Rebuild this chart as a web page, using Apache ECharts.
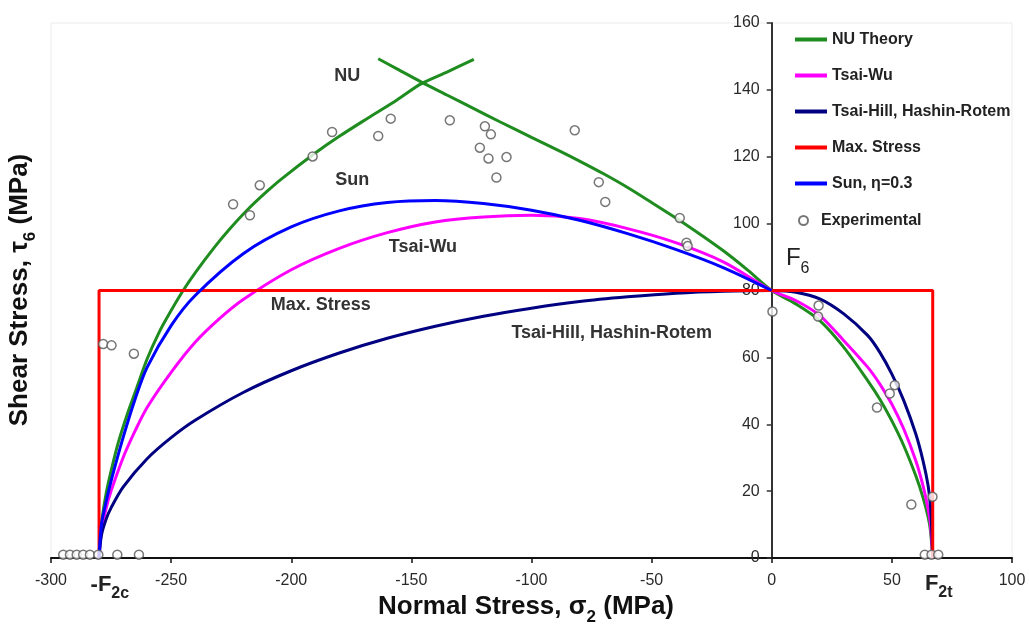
<!DOCTYPE html>
<html>
<head>
<meta charset="utf-8">
<script src="https://cdn.jsdelivr.net/npm/echarts@6/dist/echarts.min.js"></script>
<style>
  html, body { margin: 0; background: #fff; }
  #chart { width: 1029px; height: 626px; }
</style>
</head>
<body>
<div id="chart"></div>
<script>
// failure envelopes (sigma2 in MPa, tau6 in MPa)
const nuLeftX = [-280, -279.5, -278.5, -277, -275, -272, -268, -265, -260, -255, -250, -245, -240, -232, -226, -218, -210, -204, -190, -180, -168, -156, -146, -135, -124];
const nuLeftY = [0, 7, 13, 19.5, 26, 34.5, 43.5, 49.5, 59.5, 67.5, 74, 80, 85.3, 92.9, 98.1, 104.3, 109.7, 113.4, 121.1, 126.1, 131.6, 137, 141.8, 145.4, 149.1];

const nuRightX = [-163.8, -156, -146, -135, -124, -113, -100, -88, -80, -70, -60, -50, -38, -30, -20, -10, 0, 10, 20, 30, 40, 45, 50, 55, 60, 63, 65, 66, 67];
const nuRightY = [149.3, 146.3, 142.4, 138.4, 134.4, 130.4, 125.8, 121.6, 118.7, 114.9, 110.8, 106.3, 100.8, 96.9, 91.8, 86.1, 80, 76, 71, 63, 53, 47.5, 41, 33.5, 24.5, 18, 12.5, 8.5, 0];

const tsaiWuX = [-280, -279, -277, -275, -270, -265, -260, -250, -240, -230, -220, -200, -180, -160, -140, -120, -100, -80, -60, -40, -20, 0, 10, 20, 30, 40, 45, 50, 55, 60, 63, 65, 66, 67];
const tsaiWuY = [0, 8, 15, 20, 30, 38, 45, 55.5, 64.5, 71.5, 77.3, 86.2, 92.6, 97.3, 100.5, 102, 102.5, 101.5, 98.5, 94.3, 88.5, 80, 77, 72.5, 65, 57, 52, 46, 38.5, 29, 21.5, 15, 10.5, 0];

const tsaiHillX = [-280, -279, -277, -275, -270, -260, -250, -240, -220, -200, -180, -160, -140, -120, -100, -80, -60, -40, -20, 0, 10, 20, 30, 40, 45, 50, 55, 60, 63, 65, 66, 66.5, 67];
const tsaiHillY = [0, 6.8, 11.7, 15, 21.2, 29.7, 36, 41.2, 49.5, 56, 61.3, 65.7, 69.3, 72.3, 74.7, 76.7, 78.1, 79.2, 79.8, 80, 79.5, 77.5, 73, 66.5, 61.5, 55, 47, 37, 29, 22, 16, 10, 0];

const maxStressX = [-280, -280, 67, 67];
const maxStressY = [0, 80, 80, 0];

const sunX = [-280, -279, -277, -275, -270, -265, -260, -250, -240, -220, -200, -180, -160, -140, -120, -100, -80, -60, -40, -20, 0];
const sunY = [0, 10, 17, 23, 36, 47.5, 57, 69.5, 78.5, 91, 99, 103.8, 106.3, 106.9, 106, 104, 101, 97, 92.3, 86.8, 80];

const expX = [-294.9, -292.1, -289.3, -286.6, -283.8, -280.3, -272.4, -263.4,
  -278.3, -274.8, -265.5,
  -224.2, -217.2, -213.1, -191.1, -183, -163.8, -158.6, -134, -119.4, -116.9, -121.5, -117.9, -114.6, -110.4,
  -82, -72, -69.3, -38.3, -35.5, -35,
  0.3, 19.5, 19.3, 51.2, 49.1, 43.8, 58.1, 66.9, 63.7, 66.5, 69.3];
const expY = [1, 1, 1, 1, 1, 1, 1, 1,
  64, 63.6, 61.1,
  105.8, 102.5, 111.5, 120.1, 127.4, 126.2, 131.4, 130.9, 129.1, 126.7, 122.7, 119.5, 113.8, 119.9,
  127.9, 112.4, 106.5, 101.7, 94.3, 93.3,
  73.7, 75.5, 72.2, 51.7, 49.2, 45, 16, 18.3, 1, 1, 1];

// in-plot labels, anchored in data units
const annoText = ['NU', 'Sun', 'Tsai-Wu', 'Max. Stress', 'Tsai-Hill, Hashin-Rotem'];
const annoX = [-176.7, -174.6, -145.2, -187.7, -66.6];
const annoY = [144.2, 113.0, 93.0, 75.6, 67.4];

const X_MIN = -300, X_MAX = 100;
const GRID = { left: 51, right: 17, top: 23, bottom: 68 };
const WIDTH = 1029;

const FONT = '"Liberation Sans", Arial, sans-serif';
const GREEN = '#1f8c1f', PINK = '#ff00ff', NAVY = '#000080', RED = '#ff0000', BLUE = '#0000ff';

const zip = (xs, ys) => xs.map((x, i) => [x, ys[i]]);

const chart = echarts.init(document.getElementById('chart'));

function lineSeries(name, xs, ys, color, smooth) {
  return {
    name: name,
    type: 'line',
    data: zip(xs, ys),
    symbol: 'none',
    smooth: smooth,
    lineStyle: { color: color, width: 3 },
    itemStyle: { color: color },
    z: 3
  };
}

// y axis sits on sigma2 = 0, labels included
const plotW = WIDTH - GRID.left - GRID.right;
const yAxisOffset = -plotW * (0 - X_MIN) / (X_MAX - X_MIN);

const legendText = { fontSize: 16, fontWeight: 'bold', color: '#222', fontFamily: FONT, lineHeight: 17 };

const option = {
  animation: false,
  grid: Object.assign({ show: true, borderColor: '#ececec', borderWidth: 1 }, GRID),
  xAxis: {
    type: 'value',
    min: X_MIN,
    max: X_MAX,
    interval: 50,
    axisLine: { onZero: false, lineStyle: { color: '#111', width: 2 } },
    axisTick: { length: 5, lineStyle: { color: '#111', width: 1.5 } },
    axisLabel: { color: '#2a2a2a', fontSize: 16, margin: 15, fontFamily: FONT },
    splitLine: { show: false }
  },
  yAxis: {
    type: 'value',
    position: 'left',
    offset: yAxisOffset,
    min: 0,
    max: 160,
    interval: 20,
    axisLine: { show: true, onZero: false, lineStyle: { color: '#333', width: 2 } },
    axisTick: { show: true, length: 5, lineStyle: { color: '#333', width: 1.5 } },
    axisLabel: { color: '#2a2a2a', fontSize: 16, margin: 12, fontFamily: FONT },
    splitLine: { show: false }
  },
  legend: [
    {
      data: ['NU Theory', 'Tsai-Wu', 'Tsai-Hill, Hashin-Rotem', 'Max. Stress', 'Sun, η=0.3'],
      orient: 'vertical',
      left: 795,
      top: 31,
      padding: 0,
      icon: 'rect',
      itemWidth: 32,
      itemHeight: 4,
      itemGap: 19,
      textStyle: legendText
    },
    {
      data: ['Experimental'],
      orient: 'vertical',
      left: 798,
      top: 212,
      padding: 0,
      itemWidth: 25,
      itemHeight: 9,
      textStyle: legendText
    }
  ],
  series: [
    lineSeries('NU Theory', nuLeftX, nuLeftY, GREEN, 0.3),
    lineSeries('NU Theory', nuRightX, nuRightY, GREEN, 0.3),
    lineSeries('Tsai-Wu', tsaiWuX, tsaiWuY, PINK, 0.3),
    lineSeries('Tsai-Hill, Hashin-Rotem', tsaiHillX, tsaiHillY, NAVY, 0.3),
    lineSeries('Max. Stress', maxStressX, maxStressY, RED, false),
    lineSeries('Sun, η=0.3', sunX, sunY, BLUE, 0.3),
    {
      name: 'Experimental',
      type: 'scatter',
      data: zip(expX, expY),
      symbol: 'circle',
      symbolSize: 9,
      itemStyle: { color: '#fff', borderColor: '#555', borderWidth: 1.5 },
      z: 5
    }
  ]
};

chart.setOption(option);

// labels placed from data coordinates
const px = (x, y) => chart.convertToPixel({ gridIndex: 0 }, [x, y]);
const graphics = annoText.map((t, i) => {
  const p = px(annoX[i], annoY[i]);
  return {
    type: 'text', x: p[0], y: p[1], z: 10,
    style: { text: t, fill: '#333', font: 'bold 18px ' + FONT, align: 'center', verticalAlign: 'middle' }
  };
});

function subText(text, pos, size, subSize, weight, color, extra) {
  return Object.assign({
    type: 'text', x: pos[0], y: pos[1], z: 10,
    style: {
      text: text, fill: color, fontSize: size, fontWeight: weight, fontFamily: FONT,
      align: 'center', verticalAlign: 'middle',
      rich: { s: { fontSize: subSize, fontWeight: weight, fontFamily: FONT, fill: color, verticalAlign: 'bottom', padding: [0, 0, -6, 0] } }
    }
  }, extra || {});
}

graphics.push(
  subText('F{s|6}', px(10.8, 89.5), 24, 16, 'normal', '#222'),
  subText('-F{s|2c}', px(-275.5, -8.1), 22, 16, 'bold', '#222'),
  subText('F{s|2t}', px(69.5, -7.8), 22, 16, 'bold', '#222'),
  subText('Normal Stress, σ{s|2} (MPa)', [526, 607], 26, 17, 'bold', '#111'),
  subText('Shear Stress, τ{s|6} (MPa)', [20, 290], 26, 17, 'bold', '#111', { rotation: Math.PI / 2 })
);

chart.setOption({ graphic: graphics });
window.addEventListener('resize', () => chart.resize());
</script>
</body>
</html>
